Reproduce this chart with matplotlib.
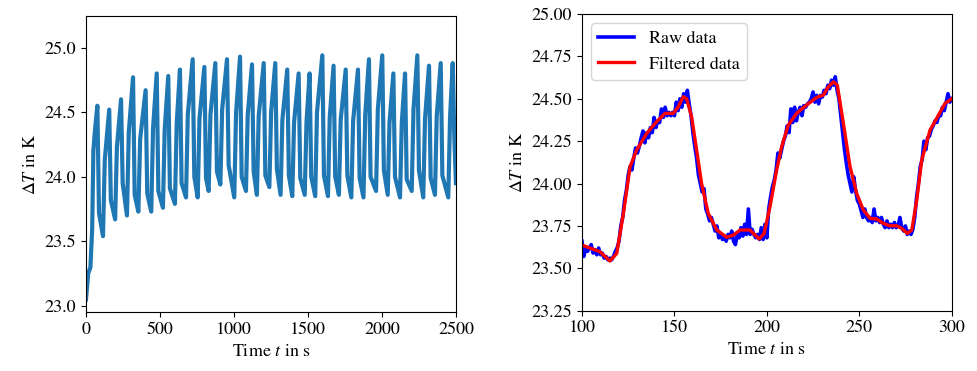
import matplotlib
matplotlib.use("Agg")
import matplotlib.pyplot as plt

plt.rcParams['font.family'] = 'serif'
plt.rcParams['font.serif'] = ['STIXGeneral', 'Liberation Serif']
plt.rcParams['mathtext.fontset'] = 'stix'
plt.rcParams['font.size'] = 13

t_full = [0, 5, 15, 30, 42, 50, 60, 77, 88,
          115, 127, 157, 168,
          197, 209, 237, 248,
          277, 289, 318, 329,
          354, 366, 403, 414,
          441, 453, 478, 489,
          520, 532, 556, 567,
          601, 613, 635, 646,
          676, 688, 721, 732,
          755, 767, 800, 811,
          829, 841, 874, 885,
          908, 920, 953, 964,
          1002, 1014, 1041, 1052,
          1081, 1093, 1122, 1133,
          1155, 1167, 1201, 1212,
          1239, 1251, 1279, 1290,
          1315, 1327, 1360, 1371,
          1394, 1406, 1437, 1448,
          1478, 1490, 1511, 1522,
          1549, 1561, 1597, 1608,
          1635, 1647, 1673, 1684,
          1709, 1721, 1755, 1766,
          1793, 1805, 1838, 1849,
          1875, 1887, 1912, 1923,
          1960, 1972, 2002, 2013,
          2039, 2051, 2077, 2088,
          2122, 2134, 2156, 2167,
          2201, 2213, 2239, 2250,
          2279, 2291, 2318, 2329,
          2358, 2370, 2397, 2408,
          2448, 2460, 2478, 2489, 2500]
dT_full = [23.05, 23.12, 23.25, 23.30, 23.60, 24.20, 24.35, 24.55, 23.72,
           23.54, 24.13, 24.52, 23.82,
           23.67, 24.23, 24.60, 23.95,
           23.70, 24.34, 24.77, 23.86,
           23.73, 24.29, 24.67, 23.87,
           23.73, 24.37, 24.80, 23.89,
           23.76, 24.37, 24.78, 23.91,
           23.79, 24.41, 24.83, 23.95,
           23.84, 24.48, 24.91, 24.00,
           23.84, 24.45, 24.85, 23.99,
           23.89, 24.48, 24.88, 24.04,
           23.94, 24.52, 24.91, 24.09,
           23.84, 24.49, 24.93, 24.00,
           23.89, 24.48, 24.87, 24.04,
           23.86, 24.47, 24.88, 24.01,
           23.92, 24.50, 24.88, 24.06,
           23.86, 24.44, 24.83, 24.01,
           23.85, 24.42, 24.80, 23.99,
           23.86, 24.42, 24.80, 24.00,
           23.85, 24.50, 24.94, 24.01,
           23.85, 24.46, 24.86, 24.00,
           23.86, 24.44, 24.83, 24.01,
           23.84, 24.43, 24.83, 23.99,
           23.84, 24.48, 24.91, 24.00,
           23.89, 24.52, 24.94, 24.05,
           23.86, 24.42, 24.80, 24.00,
           23.84, 24.42, 24.80, 23.98,
           23.89, 24.52, 24.94, 24.05,
           23.84, 24.45, 24.86, 23.99,
           23.86, 24.47, 24.88, 24.01,
           23.84, 24.46, 24.88, 24.30, 23.95]

# right panel: raw signal, one value per second from 100 s to 300 s
t_raw = list(range(100, 301))
dT_raw = [23.66, 23.57, 23.62, 23.60, 23.62, 23.64, 23.59, 23.61, 23.58, 23.62,
          23.58, 23.59, 23.56, 23.57, 23.55, 23.56, 23.55, 23.57, 23.60, 23.62,
          23.66, 23.75, 23.80, 23.90, 23.96, 24.05, 24.10, 24.08, 24.15, 24.21,
          24.18, 24.22, 24.27, 24.31, 24.24, 24.30, 24.27, 24.33, 24.30, 24.39,
          24.33, 24.37, 24.36, 24.44, 24.39, 24.45, 24.40, 24.42, 24.40, 24.42,
          24.40, 24.48, 24.43, 24.50, 24.45, 24.53, 24.48, 24.55, 24.47, 24.40,
          24.30, 24.22, 24.15, 24.05, 24.00, 23.95, 23.97, 23.85, 23.82, 23.78,
          23.80, 23.76, 23.72, 23.75, 23.68, 23.70, 23.67, 23.69, 23.66, 23.70,
          23.68, 23.72, 23.66, 23.64, 23.70, 23.68, 23.74, 23.69, 23.76, 23.70,
          23.85, 23.70, 23.73, 23.70, 23.68, 23.70, 23.67, 23.74, 23.67, 23.76,
          23.68, 23.85, 23.92, 23.98, 24.02, 24.08, 24.18, 24.15, 24.20, 24.25,
          24.28, 24.34, 24.30, 24.44, 24.36, 24.45, 24.37, 24.42, 24.45, 24.40,
          24.46, 24.45, 24.47, 24.48, 24.50, 24.54, 24.48, 24.52, 24.47, 24.52,
          24.51, 24.55, 24.53, 24.58, 24.56, 24.61, 24.58, 24.63, 24.55, 24.50,
          24.40, 24.30, 24.20, 24.12, 24.05, 24.00, 23.95, 24.04, 23.96, 23.90,
          23.88, 23.84, 23.80, 23.85, 23.80, 23.78, 23.80, 23.77, 23.85, 23.78,
          23.80, 23.77, 23.80, 23.76, 23.74, 23.78, 23.74, 23.76, 23.74, 23.77,
          23.74, 23.75, 23.80, 23.74, 23.72, 23.75, 23.70, 23.72, 23.70, 23.73,
          23.80, 23.92, 24.00, 24.10, 24.14, 24.25, 24.20, 24.27, 24.28, 24.32,
          24.34, 24.37, 24.36, 24.40, 24.40, 24.45, 24.43, 24.48, 24.53, 24.48,
          24.50]

# right panel: filtered signal
t_filt = [100, 109.7, 115.1, 118.8, 122.4, 126, 129.6, 135, 140.4, 144.9,
          149.4, 152.1, 154.8, 156.6, 159.3, 162, 164.7, 168.3, 172.9, 178.3,
          181.9, 185.5, 190.9, 192.7, 195.9, 198.5, 201.7, 205.3, 208, 211.6,
          216.1, 221.5, 227, 230.6, 233.3, 236, 238.1, 241.4, 245, 248.6,
          252.2, 255.8, 259.4, 263, 266.6, 270.2, 272.9, 276, 278.4, 281.1,
          283.8, 288.3, 291.9, 296.4, 300]
dT_filt = [23.637, 23.598, 23.543, 23.588, 23.824, 24.10, 24.198, 24.296, 24.365, 24.414,
           24.414, 24.453, 24.512, 24.50, 24.394, 24.198, 24.00, 23.824, 23.726, 23.683,
           23.696, 23.726, 23.726, 23.706, 23.673, 23.706, 23.863, 24.08, 24.217, 24.345,
           24.414, 24.463, 24.508, 24.522, 24.571, 24.60, 24.581, 24.355, 24.10, 23.942,
           23.844, 23.795, 23.791, 23.765, 23.751, 23.751, 23.736, 23.706, 23.726, 23.903,
           24.139, 24.316, 24.385, 24.473, 24.50]

fig = plt.figure(figsize=(9.77, 3.71), dpi=100)
ax1 = fig.add_axes([0.088, 0.158, 0.3787, 0.799])
ax2 = fig.add_axes([0.5957, 0.1625, 0.3784, 0.7998])

ax1.plot(t_full, dT_full, color='#1f77b4', lw=3)
ax1.set_xlim(0, 2500)
ax1.set_ylim(22.95, 25.245)
ax1.set_xticks([0, 500, 1000, 1500, 2000, 2500])
ax1.set_yticks([23.0, 23.5, 24.0, 24.5, 25.0])
ax1.set_xlabel(r'Time $t$ in s')
ax1.set_ylabel(r'$\Delta T$ in K')

ax2.plot(t_raw, dT_raw, color='blue', lw=2.6, label='Raw data')
ax2.plot(t_filt, dT_filt, color='red', lw=2.4, label='Filtered data')
ax2.set_xlim(100, 300)
ax2.set_ylim(23.25, 25.0)
ax2.set_xticks([100, 150, 200, 250, 300])
ax2.set_yticks([23.25, 23.5, 23.75, 24.0, 24.25, 24.5, 24.75, 25.0])
ax2.set_xlabel(r'Time $t$ in s')
ax2.set_ylabel(r'$\Delta T$ in K')
ax2.legend(loc='upper left')

fig.savefig('out.png', dpi=100)
